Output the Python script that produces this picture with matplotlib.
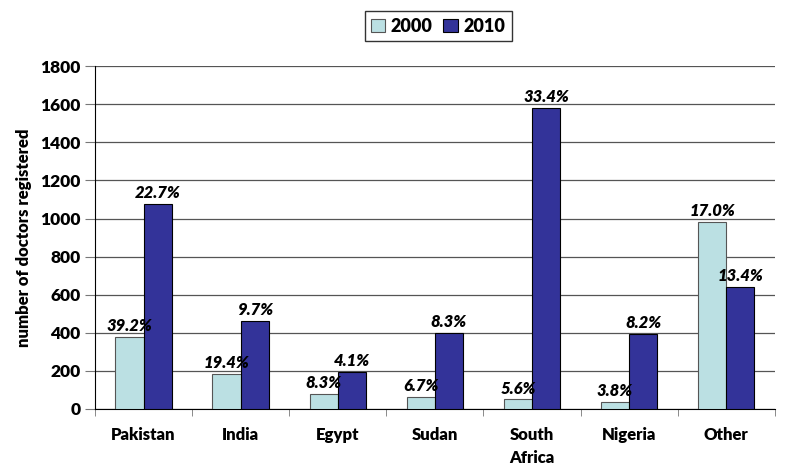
import numpy as np
import matplotlib.pyplot as plt

plt.rcParams['font.family'] = ['Lato', 'DejaVu Sans']

# doctors registered by country of qualification
countries = ["Pakistan", "India", "Egypt", "Sudan", "South\nAfrica", "Nigeria", "Other"]
doctors_2000 = [378, 184, 80, 62, 50, 38, 983]
doctors_2010 = [1075, 462, 196, 400, 1580, 394, 640]
share_2000 = ["39.2%", "19.4%", "8.3%", "6.7%", "5.6%", "3.8%", "17.0%"]
share_2010 = ["22.7%", "9.7%", "4.1%", "8.3%", "33.4%", "8.2%", "13.4%"]

x = np.arange(len(countries))
w = 0.29
fw = "heavy"

fig = plt.figure(figsize=(7.85, 4.69), dpi=100)
ax = fig.add_axes([0.121, 0.128, 0.866, 0.731])

b1 = ax.bar(x - w / 2, doctors_2000, w, color="#BBE0E3", edgecolor="#555555", linewidth=0.8, label="2000", zorder=3)
b2 = ax.bar(x + w / 2, doctors_2010, w, color="#333399", edgecolor="black", linewidth=0.8, label="2010", zorder=3)

for bars, labels in [(b1, share_2000), (b2, share_2010)]:
    for bar, lab in zip(bars, labels):
        ax.text(bar.get_x() + bar.get_width() / 2, bar.get_height() + 15, lab,
                ha="center", va="bottom", fontsize=12, fontweight=fw, style="italic")

ax.set_xlim(-0.5, len(countries) - 0.5)
ax.set_ylim(0, 1800)
ax.set_yticks(np.arange(0, 1801, 200))
ax.yaxis.grid(True, color="#555555", linewidth=0.9, zorder=0)
ax.set_xticks(x)
ax.set_xticklabels(countries, fontsize=12, fontweight=fw, linespacing=1.5)
ax.set_xticks(np.arange(-0.5, len(countries), 1), minor=True)
ax.tick_params(axis="x", which="major", length=0, pad=13)
ax.tick_params(axis="x", which="minor", length=5, color="#777777")
ax.tick_params(axis="y", length=7, color="#777777", labelsize=12.5)
for t in ax.get_yticklabels():
    t.set_fontweight(fw)
ax.set_ylabel("number of doctors registered", fontsize=12, fontweight=fw, labelpad=6)

ax.spines["top"].set_visible(False)
ax.spines["right"].set_visible(False)

fig.legend(handles=[b1, b2], loc="upper center", bbox_to_anchor=(0.558, 0.995), ncol=2,
           frameon=True, fancybox=False, edgecolor="black", handlelength=0.8, handleheight=0.8,
           handletextpad=0.3, columnspacing=0.6, borderpad=0.35,
           prop={"weight": fw, "size": 13})

plt.savefig("out.png", dpi=100)
